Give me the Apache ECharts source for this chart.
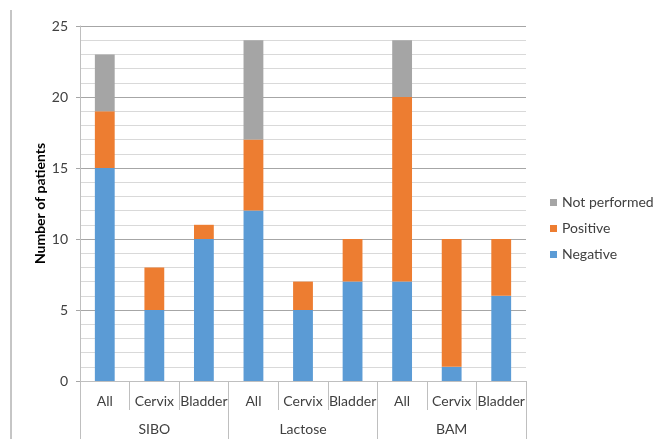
<!DOCTYPE html>
<html>
<head>
<meta charset="utf-8">
<script src="https://cdn.jsdelivr.net/npm/echarts@6/dist/echarts.min.js"></script>
<style>
  html, body { margin: 0; padding: 0; background: #fff; }
  #chart { width: 659px; height: 439px; }
</style>
</head>
<body>
<div id="chart"></div>
<script>
const subCategories = ["All", "Cervix", "Bladder", "All", "Cervix", "Bladder", "All", "Cervix", "Bladder"];
const groups = ["SIBO", "Lactose", "BAM"];
const negative = [15, 5, 10, 12, 5, 7, 7, 1, 6];
const positive = [4, 3, 1, 5, 2, 3, 13, 9, 4];
const notPerformed = [4, 0, 0, 7, 0, 0, 4, 0, 0];
const yTicks = [0, 5, 10, 15, 20, 25];

const font = "Lato, 'Open Sans', sans-serif";
const chart = echarts.init(document.getElementById("chart"));

const barStyle = { barWidth: "40%", stack: "total" };

chart.setOption({
    animation: false,
    textStyle: { fontFamily: font },
    graphic: [
        {
            type: "line",
            shape: { x1: 11, y1: 10, x2: 11, y2: 439 },
            style: { stroke: "#8c8c8c", lineWidth: 1 }
        }
    ],
    legend: {
        orient: "vertical",
        left: 545,
        top: 190,
        itemWidth: 7,
        itemHeight: 7,
        itemGap: 11,
        icon: "rect",
        data: ["Not performed", "Positive", "Negative"],
        textStyle: { fontSize: 14, color: "#404040", fontFamily: font, lineHeight: 15 }
    },
    grid: { left: 80, right: 133, top: 26, bottom: 58, containLabel: false },
    xAxis: [
        {
            type: "category",
            data: subCategories,
            position: "bottom",
            axisLine: { show: true, lineStyle: { color: "#bfbfbf" } },
            axisTick: { show: true, length: 29, lineStyle: { color: "#bfbfbf" } },
            axisLabel: { margin: 13, fontSize: 14, color: "#404040", fontFamily: font, interval: 0 }
        },
        {
            type: "category",
            data: groups,
            position: "bottom",
            axisLine: { show: false },
            axisTick: { show: true, length: 58, lineStyle: { color: "#bfbfbf" } },
            axisLabel: { margin: 41, fontSize: 14, color: "#404040", fontFamily: font, interval: 0 }
        }
    ],
    yAxis: {
        type: "value",
        min: yTicks[0],
        max: yTicks[yTicks.length - 1],
        interval: 5,
        name: "Number of patients",
        nameLocation: "middle",
        nameGap: 33,
        nameMoveOverlap: false,
        nameTextStyle: { fontSize: 14, fontWeight: "bold", color: "#000", fontFamily: font },
        axisLine: { show: true, lineStyle: { color: "#bfbfbf" } },
        axisTick: { show: true, length: 4, lineStyle: { color: "#a6a6a6" } },
        axisLabel: { margin: 12, fontSize: 14, color: "#404040", fontFamily: font },
        splitLine: { show: true, lineStyle: { color: "#a6a6a6" } },
        minorTick: { show: false, splitNumber: 5 },
        minorSplitLine: { show: true, lineStyle: { color: "#d9d9d9" } }
    },
    series: [
        Object.assign({ name: "Negative", type: "bar", data: negative, itemStyle: { color: "#5b9bd5" } }, barStyle),
        Object.assign({ name: "Positive", type: "bar", data: positive, itemStyle: { color: "#ed7d31" } }, barStyle),
        Object.assign({ name: "Not performed", type: "bar", data: notPerformed, itemStyle: { color: "#a5a5a5" } }, barStyle)
    ]
});
</script>
</body>
</html>
